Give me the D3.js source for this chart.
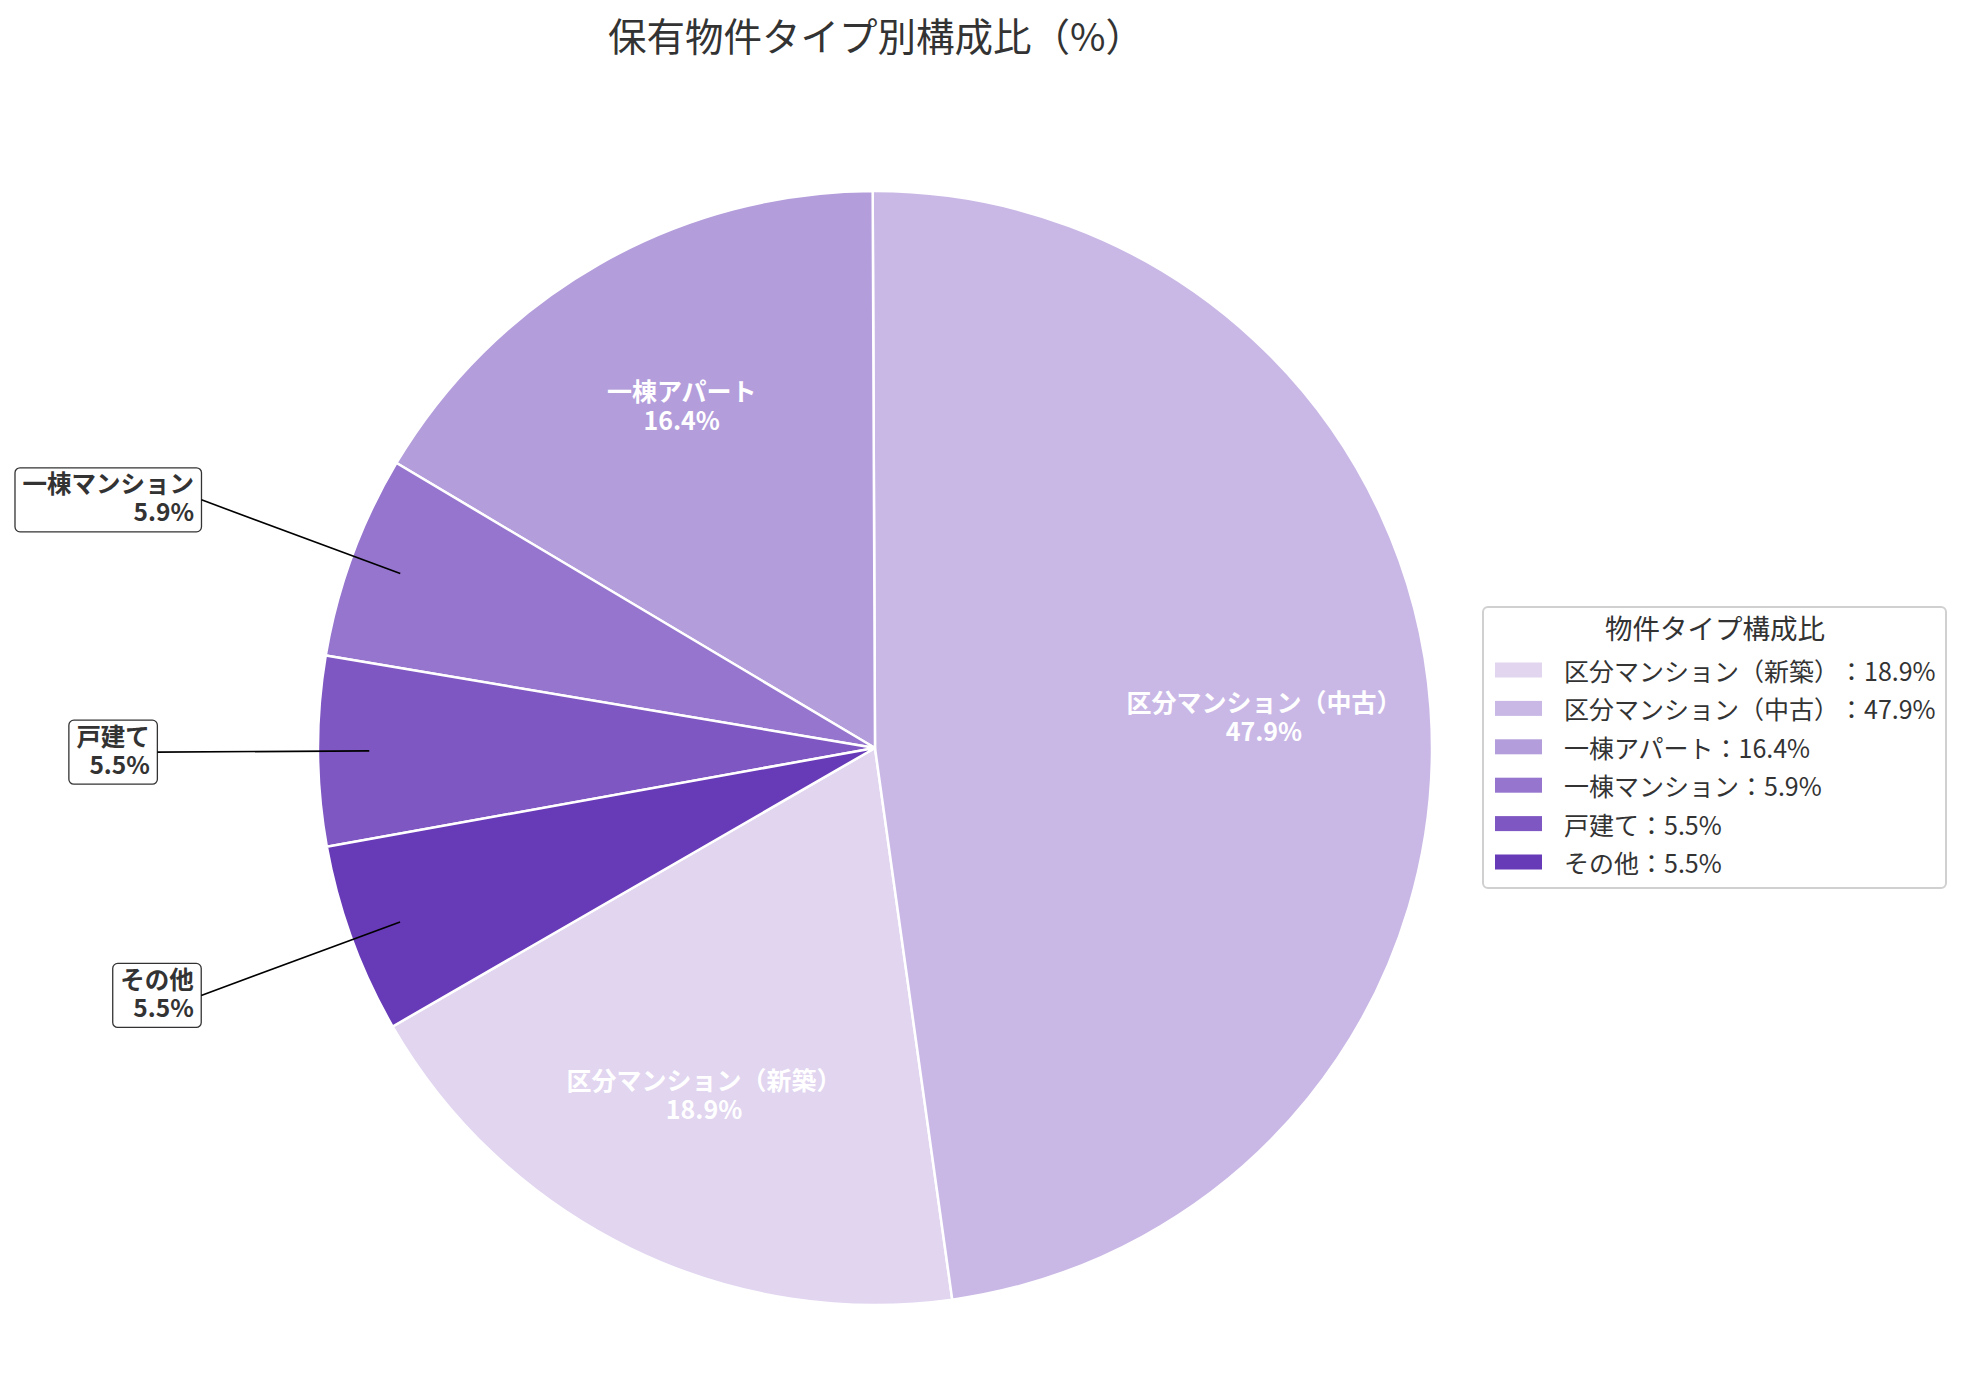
<!DOCTYPE html>
<html>
<head>
<meta charset="utf-8">
<script src="https://cdn.jsdelivr.net/npm/d3@7"></script>
<style>
  body { margin: 0; background: #fff; }
  svg { font-family: "Noto Sans CJK JP", "Noto Sans", sans-serif; text-spacing-trim: space-all; }
</style>
</head>
<body>
<div id="chart"></div>
<script>
// data
var categories = ["区分マンション（新築）", "区分マンション（中古）", "一棟アパート", "一棟マンション", "戸建て", "その他"];
var shares = [18.9, 47.9, 16.4, 5.9, 5.5, 5.5];
var colors = ["#e1d5f0", "#c9b8e6", "#b39ddb", "#9575cd", "#7e57c2", "#673ab7"];
var outside = [false, false, false, true, true, true];

var width = 1964, height = 1380;
var cx = 875, cy = 748, R = 557;

var svg = d3.select("#chart").append("svg")
    .attr("width", width)
    .attr("height", height);

// title
svg.append("text")
    .attr("x", 876)
    .attr("y", 34)
    .attr("text-anchor", "middle")
    .attr("dominant-baseline", "central")
    .attr("font-size", 38.5)
    .attr("fill", "#333")
    .text("保有物件タイプ別構成比（%）");

// matplotlib style: start at 210deg, counterclockwise
var pie = d3.pie()
    .sort(null)
    .startAngle(-120 * Math.PI / 180)
    .endAngle(-480 * Math.PI / 180);

var arcs = pie(shares);
var arc = d3.arc().innerRadius(0).outerRadius(R);

var g = svg.append("g").attr("transform", "translate(" + cx + "," + cy + ")");

g.selectAll("path")
    .data(arcs)
    .join("path")
    .attr("d", arc)
    .attr("fill", (d, i) => colors[i])
    .attr("stroke", "#fff")
    .attr("stroke-width", 2.5);

function pointAt(d, r) {
    var a = (d.startAngle + d.endAngle) / 2;
    return [r * Math.sin(a), -r * Math.cos(a)];
}

// inside labels
arcs.forEach(function(d, i) {
    if (outside[i]) return;
    var p = pointAt(d, 0.7 * R);
    var t = g.append("text")
        .attr("text-anchor", "middle")
        .attr("dominant-baseline", "central")
        .attr("font-size", 25)
        .attr("font-weight", "bold")
        .attr("fill", "#fff");
    t.append("tspan").attr("x", p[0]).attr("y", p[1] - 19.5).text(categories[i]);
    t.append("tspan").attr("x", p[0]).attr("y", p[1] + 9.5).text(shares[i].toFixed(1) + "%");
});

// outside labels with boxes
arcs.forEach(function(d, i) {
    if (!outside[i]) return;
    var tip = pointAt(d, 0.908 * R);
    var anc = pointAt(d, 1.292 * R);
    var lg = g.append("g");
    var t = lg.append("text")
        .attr("text-anchor", "end")
        .attr("dominant-baseline", "central")
        .attr("font-size", 24.5)
        .attr("font-weight", "bold")
        .attr("fill", "#333");
    t.append("tspan").attr("x", anc[0] - 5.5).attr("y", anc[1] - 17.5).text(categories[i]);
    t.append("tspan").attr("x", anc[0] - 5.5).attr("y", anc[1] + 10.5).text(shares[i].toFixed(1) + "%");
    var bb = t.node().getBBox();
    lg.insert("rect", "text")
        .attr("x", bb.x - 7.5)
        .attr("y", anc[1] - 32)
        .attr("width", bb.width + 15)
        .attr("height", 64)
        .attr("rx", 5)
        .attr("fill", "#fff")
        .attr("stroke", "#333")
        .attr("stroke-width", 1.3);
    lg.append("line")
        .attr("x1", anc[0] + 2).attr("y1", anc[1])
        .attr("x2", tip[0]).attr("y2", tip[1])
        .attr("stroke", "#000")
        .attr("stroke-width", 1.6);
});

// legend
var leg = svg.append("g").attr("transform", "translate(1483,607)");
leg.append("rect")
    .attr("width", 463).attr("height", 281)
    .attr("rx", 5)
    .attr("fill", "#fff")
    .attr("stroke", "#d0d0d0")
    .attr("stroke-width", 2);
leg.append("text")
    .attr("x", 232).attr("y", 20)
    .attr("text-anchor", "middle")
    .attr("dominant-baseline", "central")
    .attr("font-size", 27.5)
    .attr("fill", "#333")
    .text("物件タイプ構成比");

var rows = leg.selectAll("g.row")
    .data(categories)
    .join("g")
    .attr("class", "row")
    .attr("transform", (d, i) => "translate(0," + (63 + i * 38.4) + ")");
rows.append("rect")
    .attr("x", 12).attr("y", -7.5)
    .attr("width", 47).attr("height", 15)
    .attr("fill", (d, i) => colors[i]);
rows.append("text")
    .attr("x", 81).attr("y", 0)
    .attr("dominant-baseline", "central")
    .attr("font-size", 25)
    .attr("fill", "#333")
    .text((d, i) => d + "：" + shares[i].toFixed(1) + "%");
</script>
</body>
</html>
